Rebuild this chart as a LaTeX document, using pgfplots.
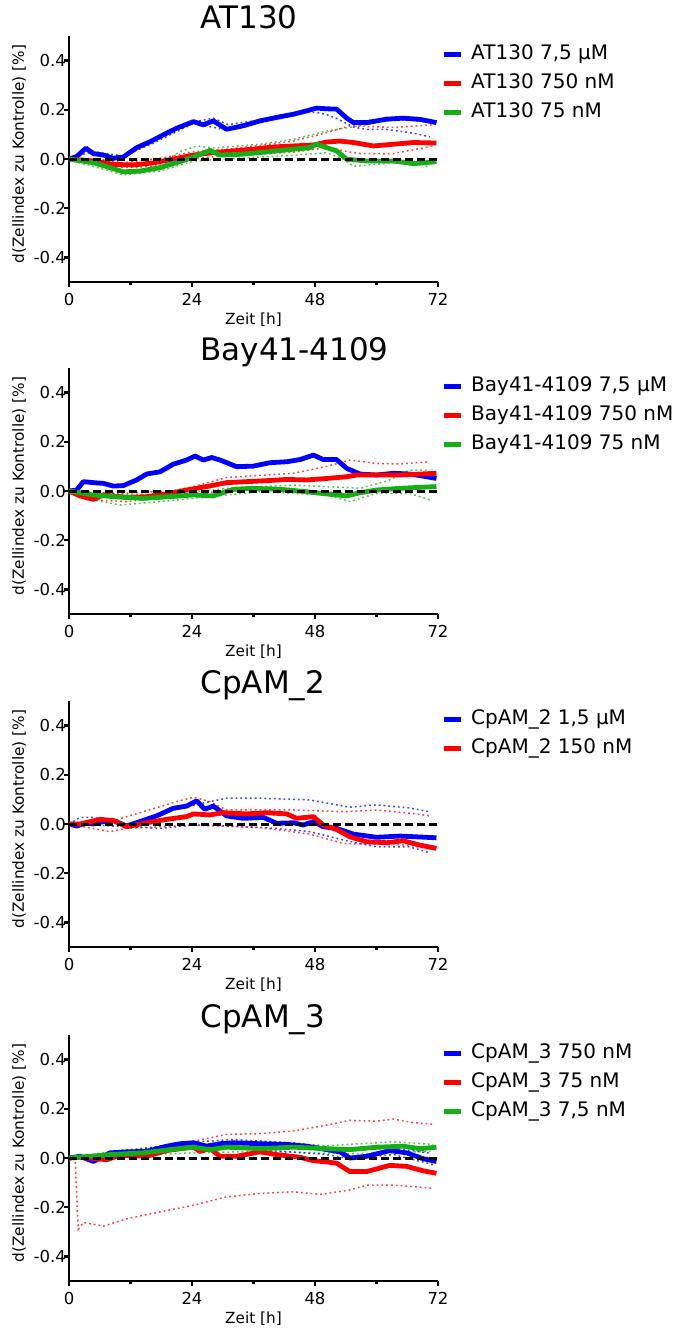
\documentclass[border=0pt]{standalone}
\usepackage{pgfplots}
\pgfplotsset{compat=1.18}
\usepackage{fontspec}
\setmainfont{DejaVu Sans}

\definecolor{cb}{RGB}{0,0,255}
\definecolor{cr}{RGB}{255,0,0}
\definecolor{cg}{RGB}{20,175,20}

\pgfplotsset{
  panel/.style={
    width=369pt, height=246pt, scale only axis,
    xmin=0, xmax=72, ymin=-0.5, ymax=0.5,
    axis lines=left,
    axis line style={-, line width=2.8pt, black},
    xtick={0,24,48,72}, minor xtick={12,36,60},
    ytick={-0.4,-0.2,0,0.2,0.4},
    yticklabels={-0.4,-0.2,0.0,0.2,0.4},
    tick align=outside,
    major tick length=5pt, minor tick length=3pt,
    every tick/.style={line width=2.5pt, black},
    /pgf/number format/assume math mode=true,
    tick label style={font=\fontsize{16.5}{18}\selectfont},
    yticklabel style={inner sep=0pt, xshift=2pt},
    xticklabel style={inner sep=1pt, yshift=-5pt},
    xlabel={Zeit [h]},
    ylabel={d(Zellindex zu Kontrolle) [\%]},
    label style={font=\fontsize{15.3}{17}\selectfont},
    xlabel style={at={(axis description cs:0.5,0)}, anchor=center, yshift=-38pt},
    ylabel style={at={(axis description cs:-0.135,0.52)}, anchor=center},
    title style={at={(0.347,1)}, anchor=base west, yshift=2pt,
                 font=\fontsize{31}{33}\selectfont},
    clip=false,
    legend style={at={(1,1)}, anchor=north west, xshift=3pt, yshift=-8pt,
      draw=none, fill=none, inner sep=0pt, row sep=9pt,
      font=\fontsize{20}{22}\selectfont,
      nodes={inner sep=0pt, text height=15pt, text depth=5pt},
      /tikz/every odd column/.append style={column sep=8pt}},
    legend cell align=left,
    legend image code/.code={\draw[line width=5pt] (0pt,0pt) -- (17pt,0pt);},
  },
  mean/.style={line width=4.8pt, line join=round},
  sd/.style={line width=1.5pt, dash pattern=on 1.8pt off 3pt, opacity=0.75, forget plot},
  zero/.style={black, line width=3pt, dash pattern=on 8pt off 4pt, forget plot},
}

\begin{document}
\begin{tikzpicture}
\path[use as bounding box] (0,0) rectangle (678pt,-1328pt);

% ---------------- AT130
\begin{axis}[panel, at={(69pt,-282pt)}, anchor=south west, title={AT130}]
\addplot[sd, cb] coordinates {(0,0.005) (4.75,0.03) (10.6,0.012) (18.4,0.1) (24.3,0.15) (28.15,0.166) (31,0.14) (37,0.157) (44,0.184) (48.3,0.207) (52.2,0.205) (55.5,0.15) (62,0.165) (71.7,0.15)};
\addplot[sd, cb] coordinates {(0,-0.005) (8.65,-0.005) (16,0.06) (24.3,0.145) (30.75,0.118) (40,0.16) (46.4,0.19) (48.3,0.19) (50.3,0.18) (52.2,0.165) (55.5,0.13) (58.1,0.12) (62,0.12) (67.2,0.105) (70.4,0.09)};
\addplot[sd, cr] coordinates {(0,0) (4.75,0.0) (10.6,-0.015) (18.4,0.005) (24.3,0.03) (30.75,0.04) (37.25,0.055) (43.8,0.073) (50.3,0.107) (54.8,0.135) (63.3,0.128) (71.1,0.139)};
\addplot[sd, cr] coordinates {(0,-0.005) (6.7,-0.02) (10.6,-0.035) (16.45,-0.03) (24.3,0.0) (30.75,0.015) (37.25,0.02) (43.8,0.028) (48.3,0.04) (50.3,0.05) (54.2,0.03) (56.8,0.022) (63.3,0.022) (71.1,0.053)};
\addplot[sd, cg] coordinates {(0,0) (8.65,-0.02) (13.2,-0.035) (18.4,-0.01) (21.65,0.03) (24.9,0.053) (28.15,0.045) (37.25,0.06) (43.8,0.08) (50.3,0.114) (56.8,0.135) (63.3,0.16) (67.2,0.158) (71.1,0.145)};
\addplot[sd, cg] coordinates {(0,-0.005) (4.75,-0.03) (10.6,-0.065) (17.75,-0.049) (24.3,-0.008) (30.75,0.0) (37.25,0.008) (43.8,0.015) (50.3,0.026) (53.5,0.0) (55.5,-0.03) (58.1,-0.025) (63.3,-0.015) (68.5,-0.02) (70.4,-0.035)};
\addplot[mean, cb] coordinates {(0,0) (1.5,0.01) (3.3,0.044) (4.75,0.022) (6.7,0.016) (8.65,0.003) (10.6,0.008) (13.2,0.046) (15.8,0.07) (18.4,0.098) (21,0.125) (24.3,0.152) (26.2,0.139) (28.15,0.155) (30.75,0.121) (34,0.135) (37.25,0.155) (40.5,0.169) (43.8,0.182) (46.4,0.196) (48.3,0.207) (50.3,0.204) (52.2,0.203) (54.2,0.166) (55.5,0.148) (58.1,0.148) (62,0.162) (65.2,0.166) (68.5,0.161) (71.7,0.148)};
\addplot[mean, cr] coordinates {(0,0) (4.75,-0.008) (8.65,-0.022) (12.55,-0.024) (16.45,-0.016) (20.35,0) (24.3,0.016) (28.15,0.026) (32.05,0.033) (35.95,0.04) (39.9,0.049) (43.8,0.053) (47.7,0.057) (50.3,0.069) (52.9,0.073) (55.5,0.067) (59.4,0.053) (63.3,0.06) (67.2,0.067) (71.7,0.065)};
\addplot[mean, cg] coordinates {(0,0) (4.75,-0.015) (8,-0.035) (10.6,-0.052) (13.85,-0.049) (17.75,-0.035) (21,-0.015) (24.3,0.008) (27.5,0.035) (29.45,0.016) (33.4,0.019) (37.25,0.026) (40.5,0.033) (43.8,0.04) (47,0.046) (48.3,0.06) (50.3,0.046) (52.2,0.033) (54.2,-0.001) (58.1,-0.008) (63.3,-0.008) (67.2,-0.019) (71.7,-0.011)};
\addplot[zero] coordinates {(0,0) (72,0)};
\legend{{AT130 7,5 µM}, {AT130 750 nM}, {AT130 75 nM}}
\end{axis}

% ---------------- Bay41-4109
\begin{axis}[panel, at={(69pt,-614pt)}, anchor=south west, title={Bay41-4109}]
\addplot[sd, cr] coordinates {(0,0) (10,-0.01) (20,0.0) (24.3,0.018) (30.75,0.055) (43.8,0.072) (50.3,0.1) (54.8,0.126) (60,0.112) (64.6,0.11) (70.4,0.119)};
\addplot[sd, cr] coordinates {(0,0) (4.75,-0.036) (11.25,-0.043) (24.3,-0.01) (37.25,0.011) (50.3,-0.003) (53.5,-0.007) (63.3,0.011) (70.4,0.02)};
\addplot[sd, cg] coordinates {(0,0) (10,-0.015) (20,-0.015) (30.75,0.011) (43.8,0.024) (56.8,0.011) (62,0.04) (66.5,0.085) (70.4,0.085)};
\addplot[sd, cg] coordinates {(0,0) (4.75,-0.036) (9.95,-0.057) (17.75,-0.043) (27.5,-0.023) (37.25,-0.003) (50.3,-0.016) (54.8,-0.043) (60,-0.01) (66.5,-0.01) (70.4,-0.036)};
\addplot[mean, cb] coordinates {(0,0) (1.5,0.004) (2.8,0.038) (4.75,0.034) (6.7,0.031) (8.65,0.02) (10.6,0.022) (13.2,0.045) (15.15,0.069) (17.75,0.078) (20.35,0.109) (22.95,0.126) (24.6,0.142) (26.2,0.126) (27.85,0.136) (29.45,0.126) (32.7,0.099) (35.95,0.101) (39.2,0.115) (42.5,0.119) (45.1,0.128) (47.7,0.146) (49.6,0.128) (52.2,0.128) (54.2,0.092) (56.8,0.069) (60,0.065) (63.3,0.072) (66.5,0.069) (69.8,0.058) (71.7,0.051)};
\addplot[mean, cr] coordinates {(0,0) (2.15,-0.02) (4.75,-0.034) (6.7,-0.016) (11.25,-0.026) (15.15,-0.023) (19.05,-0.012) (22.95,0.004) (26.85,0.018) (30.75,0.034) (34.65,0.038) (38.55,0.042) (42.5,0.047) (46.4,0.045) (50.3,0.051) (54.2,0.058) (56.1,0.065) (60.7,0.065) (64.6,0.065) (68.5,0.069) (71.7,0.072)};
\addplot[mean, cg] coordinates {(0,0) (4.75,-0.016) (8.65,-0.023) (14.5,-0.03) (19.7,-0.023) (24.3,-0.016) (28.15,-0.02) (32.05,0.007) (35.95,0.011) (41.2,0.007) (46.4,-0.003) (50.3,-0.012) (54.2,-0.02) (56.8,-0.007) (60,0.004) (64.6,0.011) (71.7,0.018)};
\addplot[zero] coordinates {(0,0) (72,0)};
\legend{{Bay41-4109 7,5 µM}, {Bay41-4109 750 nM}, {Bay41-4109 75 nM}}
\end{axis}

% ---------------- CpAM_2
\begin{axis}[panel, at={(69pt,-947pt)}, anchor=south west, title={CpAM\_2}]
\addplot[sd, cb] coordinates {(0,0) (2.15,0.027) (4.75,0.027) (11.25,-0.003) (17.75,0.043) (24.3,0.077) (30.75,0.105) (37.25,0.105) (47,0.098) (54.8,0.068) (60,0.078) (66.5,0.065) (70.4,0.05)};
\addplot[sd, cb] coordinates {(0,0) (4.75,-0.004) (11.25,-0.011) (17.75,-0.018) (24.3,-0.004) (30.75,-0.008) (40.5,-0.018) (47,-0.031) (53.5,-0.065) (60,-0.093) (66.5,-0.093) (70.4,-0.117)};
\addplot[sd, cr] coordinates {(0,0) (7.35,0.005) (21,0.091) (24.3,0.109) (27.5,0.091) (30.75,0.057) (43.8,0.057) (53.5,0.05) (60,0.057) (66.5,0.044) (70.4,0.033)};
\addplot[sd, cr] coordinates {(0,0) (8,-0.031) (11.25,-0.018) (24.3,-0.004) (37.25,-0.014) (47,-0.041) (53.5,-0.079) (60,-0.082) (66.5,-0.086) (70.4,-0.103)};
\addplot[mean, cb] coordinates {(0,0) (1.5,-0.008) (3.45,0.005) (4.75,0) (6.7,0.01) (8.65,0.014) (11.25,-0.008) (13.85,0.01) (17.1,0.033) (20.35,0.064) (22.95,0.073) (24.9,0.094) (26.5,0.06) (28.15,0.073) (30.75,0.033) (34,0.023) (37.9,0.027) (40.5,0.003) (43.8,0.005) (45.7,-0.004) (47.7,0.01) (49.6,-0.011) (52.2,-0.018) (55.5,-0.041) (60,-0.054) (64.6,-0.049) (71.7,-0.056)};
\addplot[mean, cr] coordinates {(0,0) (2.15,0) (6.05,0.019) (8.65,0.014) (11.25,-0.011) (15.15,0.005) (19.05,0.019) (22.95,0.03) (24.3,0.041) (27.5,0.037) (30.1,0.046) (34.65,0.041) (38.55,0.046) (42.5,0.041) (44.4,0.023) (47.7,0.03) (49.6,-0.004) (52.2,-0.022) (54.8,-0.052) (58.1,-0.072) (62,-0.076) (65.2,-0.068) (68.5,-0.086) (71.7,-0.099)};
\addplot[zero] coordinates {(0,0) (72,0)};
\legend{{CpAM\_2 1,5 µM}, {CpAM\_2 150 nM}}
\end{axis}

% ---------------- CpAM_3
\begin{axis}[panel, at={(69pt,-1281pt)}, anchor=south west, title={CpAM\_3}]
\addplot[sd, cr] coordinates {(0,0) (2.15,0.007) (11.25,0.027) (24.3,0.068) (30.75,0.096) (37.25,0.099) (43.8,0.11) (50.3,0.134) (54.8,0.153) (60,0.15) (63.3,0.158) (67.2,0.144) (71.1,0.137)};
\addplot[sd, cr] coordinates {(0,0) (1.2,-0.003) (1.8,-0.29) (2.8,-0.262) (6.7,-0.277) (11.25,-0.247) (17.75,-0.219) (24.3,-0.192) (30.75,-0.158) (37.25,-0.144) (43.8,-0.137) (49,-0.148) (54.8,-0.13) (58.1,-0.11) (63.3,-0.11) (71.1,-0.123)};
\addplot[sd, cg] coordinates {(0,0) (11.25,0.034) (24.3,0.055) (37.25,0.068) (50.3,0.05) (63.3,0.066) (71.1,0.055)};
\addplot[sd, cg] coordinates {(0,0) (11.25,0.01) (24.3,0.021) (37.25,0.027) (54.8,0.017) (71.1,0.027)};
\addplot[sd, cb] coordinates {(0,0) (11.25,0.03) (24.3,0.065) (32.05,0.075) (43.8,0.062) (54.8,0.03) (63.3,0.04) (70.4,0.02)};
\addplot[sd, cb] coordinates {(0,0) (11.25,0.02) (24.3,0.05) (37.25,0.034) (50.3,0.014) (54.8,-0.003) (63.3,0.014) (71.1,-0.027)};
\addplot[mean, cb] coordinates {(0,0) (2.15,0.007) (4.75,-0.014) (8,0.021) (11.25,0.025) (15.15,0.027) (19.05,0.048) (21.65,0.058) (24.3,0.062) (26.85,0.048) (29.45,0.058) (32.05,0.062) (37.25,0.058) (42.5,0.055) (46.4,0.048) (50.3,0.034) (52.9,0.025) (54.8,0) (58.1,0.007) (62.6,0.03) (65.9,0.021) (69.1,-0.003) (71.7,-0.014)};
\addplot[mean, cr] coordinates {(0,0) (2.15,0.003) (7.35,-0.007) (9.95,0.011) (15.15,0.007) (19.05,0.03) (21.65,0.038) (24.3,0.044) (25.55,0.027) (27.5,0.038) (29.45,0.007) (32.7,0.007) (37.25,0.025) (40.5,0.014) (45.1,0.003) (47.7,-0.011) (50.3,-0.016) (52.2,-0.021) (54.8,-0.055) (58.1,-0.055) (62.6,-0.03) (65.9,-0.034) (69.1,-0.052) (71.7,-0.062)};
\addplot[mean, cg] coordinates {(0,0) (8,0.014) (14.5,0.021) (19.7,0.034) (24.3,0.044) (27.5,0.034) (30.75,0.044) (37.25,0.038) (43.8,0.044) (50.3,0.038) (54.8,0.034) (60,0.044) (65.2,0.048) (68.5,0.038) (71.7,0.044)};
\addplot[zero] coordinates {(0,0) (72,0)};
\legend{{CpAM\_3 750 nM}, {CpAM\_3 75 nM}, {CpAM\_3 7,5 nM}}
\end{axis}
\end{tikzpicture}
\end{document}
